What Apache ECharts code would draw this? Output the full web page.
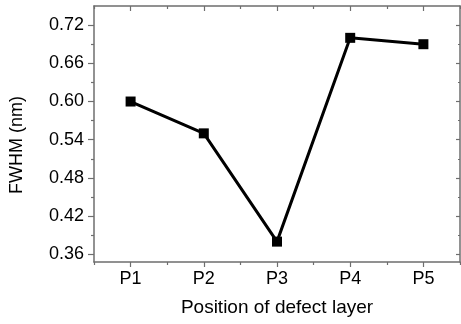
<!DOCTYPE html>
<html>
<head>
<meta charset="utf-8">
<script src="https://cdn.jsdelivr.net/npm/echarts@6/dist/echarts.min.js"></script>
<style>
html,body{margin:0;padding:0;background:#fff;}
#c{width:461px;height:324px;}
</style>
</head>
<body>
<div id="c"></div>
<script>
const categories = ['P1', 'P2', 'P3', 'P4', 'P5'];
const fwhm = [0.60, 0.55, 0.38, 0.70, 0.69];
const yMajorTicks = [0.36, 0.42, 0.48, 0.54, 0.60, 0.66, 0.72];
const yMinorTicks = [0.39, 0.45, 0.51, 0.57, 0.63, 0.69];
const yMin = 0.348, yMax = 0.75;

const AX = '#6e6e6e';
const FONT = 'Liberation Sans, Arial, sans-serif';

function xAx(pos, align, len, inside, showLine, showLabel, name) {
  return {
    type: 'category', data: categories, position: pos, boundaryGap: true,
    axisLine: { show: showLine, lineStyle: { color: AX, width: 1.5 } },
    axisTick: { show: true, alignWithLabel: align, length: len, inside: inside, lineStyle: { color: AX, width: 1.2 } },
    axisLabel: { show: showLabel, color: '#000', fontSize: 18, fontFamily: FONT, margin: 8 },
    splitLine: { show: false },
    name: name || '', nameLocation: 'middle', nameGap: 36,
    nameTextStyle: { color: '#000', fontSize: 19, fontFamily: FONT }
  };
}
function yAx(pos, ticks, len, inside, showLine, showLabel, name) {
  return {
    type: 'value', position: pos, min: yMin, max: yMax,
    axisLine: { show: showLine, lineStyle: { color: AX, width: 1.5 } },
    axisTick: { show: true, customValues: ticks, length: len, inside: inside, lineStyle: { color: AX, width: 1.2 } },
    axisLabel: { show: showLabel, customValues: ticks, color: '#000', fontSize: 18, fontFamily: FONT, margin: 10,
      formatter: v => Number(v).toFixed(2) },
    splitLine: { show: false },
    name: name || '', nameLocation: 'middle', nameGap: 68,
    nameTextStyle: { color: '#000', fontSize: 18, fontFamily: FONT, padding: [0, 22, 0, 0] }
  };
}

const chart = echarts.init(document.getElementById('c'), null, { renderer: 'canvas' });
chart.setOption({
  animation: false,
  backgroundColor: '#fff',
  grid: { left: 93, right: 1, top: 6, bottom: 62, containLabel: false },
  xAxis: [
    xAx('bottom', true, 5, false, true, true, 'Position of defect layer'),
    xAx('bottom', false, 3, false, false, false),
    xAx('top', true, 5, true, true, false),
    xAx('top', false, 3, true, false, false)
  ],
  yAxis: [
    yAx('left', yMajorTicks, 6, false, true, true, 'FWHM (nm)'),
    yAx('left', yMinorTicks, 3, false, false, false),
    yAx('right', yMajorTicks, 4, true, true, false),
    yAx('right', yMinorTicks, 2, true, false, false)
  ],
  series: [{
    type: 'line', xAxisIndex: 0, yAxisIndex: 0, data: fwhm,
    symbol: 'rect', symbolSize: 10,
    lineStyle: { color: '#000', width: 3 },
    itemStyle: { color: '#000' }
  }]
});
</script>
</body>
</html>
